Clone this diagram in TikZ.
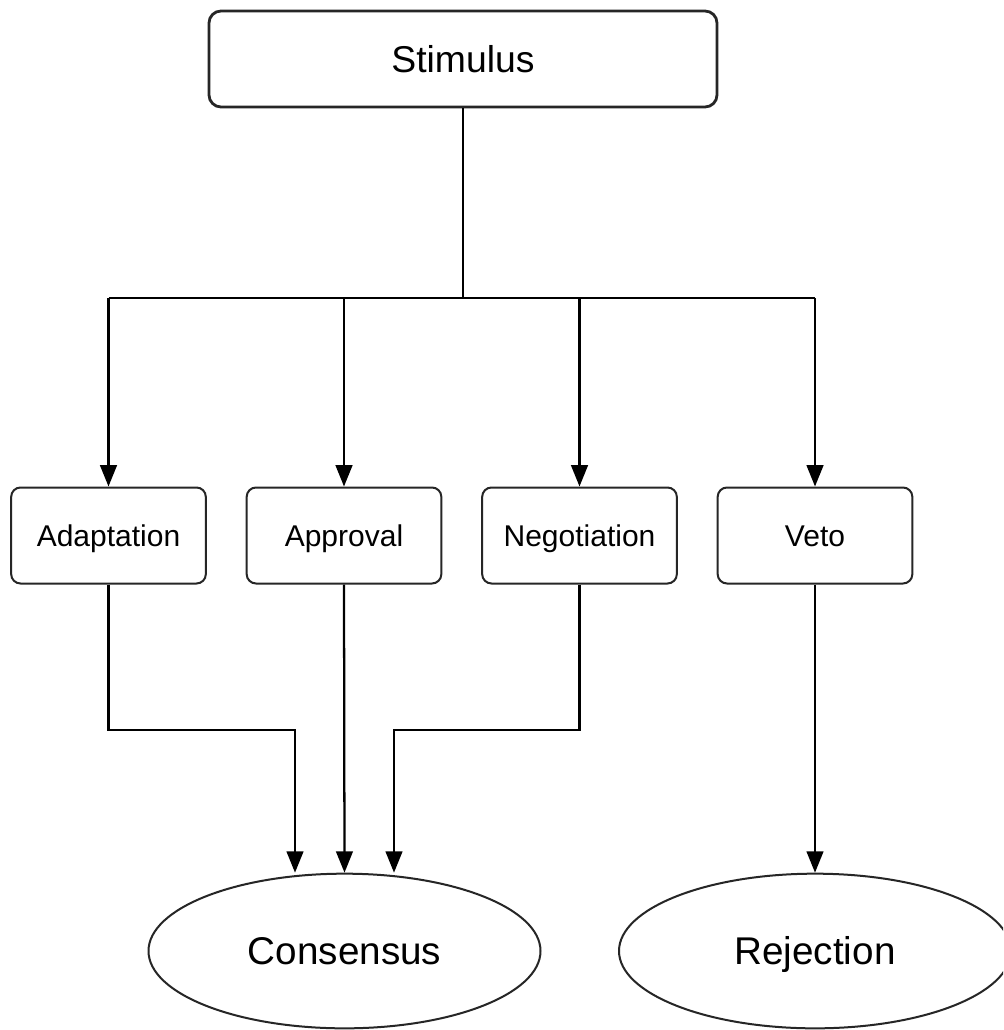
\documentclass[tikz,border=0pt]{standalone}
\usepackage{fontspec}
\setmainfont{Liberation Sans}
\usetikzlibrary{shapes.geometric,arrows.meta}
\begin{document}
\begin{tikzpicture}[x=0.75pt,y=-0.75pt,
  line width=1.7pt,
  bigbox/.style={draw=black!85,line width=2.1pt,rounded corners=9pt,minimum width=381pt,minimum height=72pt,inner sep=0pt,text height=20pt,text depth=0pt,font=\fontsize{28}{32}\selectfont},
  midbox/.style={draw=black!85,line width=1.5pt,rounded corners=7pt,minimum width=146pt,minimum height=72pt,inner sep=0pt,text height=16.1pt,text depth=0pt,font=\fontsize{22.5}{26}\selectfont},
  oval/.style={draw=black!85,line width=1.5pt,ellipse,minimum width=294pt,minimum height=116pt,inner sep=0pt,text height=20.8pt,text depth=0pt,font=\fontsize{29}{33}\selectfont},
  arr/.style={-{Triangle[length=16pt,width=12.5pt]}}]
\clip (0,0) rectangle (1003,1030);
\fill[white] (0,0) rectangle (1003,1030);
\node[bigbox] (st) at (463,59) {Stimulus};
\node[midbox] (ad) at (108.5,535.5) {Adaptation};
\node[midbox] (ap) at (344,535.5) {Approval};
\node[midbox] (ne) at (579.5,535.5) {Negotiation};
\node[midbox] (ve) at (815,535.5) {Veto};
\node[oval] (co) at (344.5,951) {Consensus};
\node[oval] (re) at (815,951) {Rejection};
\coordinate (bus) at (463,298);
\coordinate (j1) at (295,730);
\coordinate (j2) at (394,730);
\draw (st.south) -- (bus);
\draw (bus -| ad.north) -- (bus -| ve.north);
\foreach \n in {ad,ap,ne,ve} \draw[arr] (bus -| \n.north) -- (\n.north);
\draw[arr] (ad.south) |- (j1) -- (j1 |- co.north);
\draw[arr] (ap.south) -- (co.north);
\draw[arr] (ne.south) |- (j2) -- (j2 |- co.north);
\draw[arr] (ve.south) -- (re.north);
\end{tikzpicture}
\end{document}
